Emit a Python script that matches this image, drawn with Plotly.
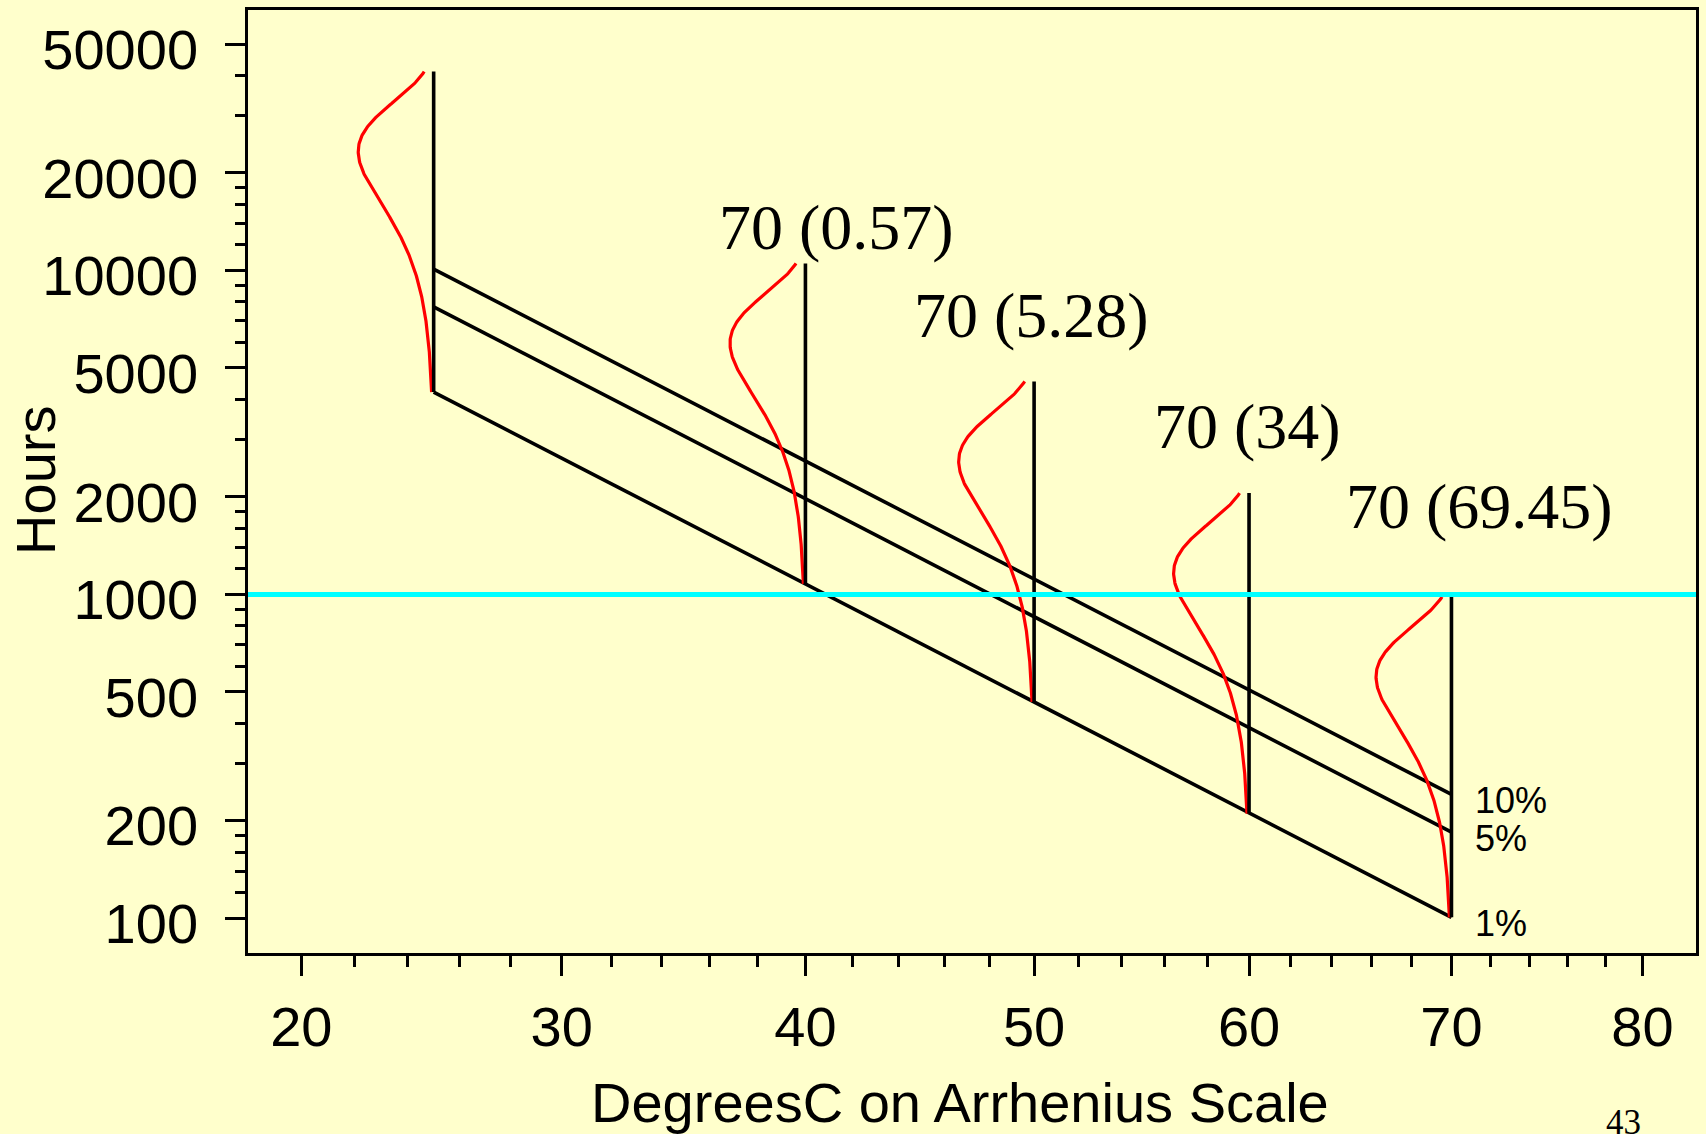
import numpy as np
import plotly.graph_objects as go

# ---- data -------------------------------------------------------------
temps_c = [25, 40, 50, 60, 70]                       # stress temperatures, deg C
char_life_hours = [23300, 5960, 2575, 1165, 557]     # Weibull characteristic life at each temperature
weibull_shape = 2.69                                 # common Weibull shape parameter
units_tested = 70
expected_failures = [0.57, 5.28, 34, 69.45]          # at 40, 50, 60, 70 deg C after 1000 h
test_hours = 1000
quantile_probs = [0.10, 0.05, 0.01]
quantile_labels = ["10%", "5%", "1%"]
density_band = [0.01, 0.99]                           # probability span of each density curve

x_tick_temps = [20, 30, 40, 50, 60, 70, 80]
x_minor_temps = [t for t in range(20, 81, 2) if t % 10]
y_major = [100, 200, 500, 1000, 2000, 5000, 10000, 20000, 50000]
y_minor = [120, 140, 160, 180, 300, 400, 600, 700, 800, 900,
           1200, 1400, 1600, 1800, 3000, 4000, 6000, 7000, 8000, 9000,
           12000, 14000, 16000, 18000, 30000, 40000]

BG = "#FFFFCC"
SANS = "Liberation Sans, Arial, sans-serif"
SERIF = "Liberation Serif, Times New Roman, serif"


def arr_x(t_c):
    """Arrhenius axis coordinate for a Celsius temperature."""
    return -1e4 / (np.asarray(t_c, dtype=float) + 273.15)


def weibull_q(eta, p):
    return eta * (-np.log(1.0 - np.asarray(p))) ** (1.0 / weibull_shape)


fig = go.Figure()

# 1000-hour test line
fig.add_shape(type="line", xref="paper", x0=0, x1=1, yref="y", y0=test_hours, y1=test_hours,
              line=dict(color="#00FFFF", width=5), layer="above")

# quantile lines between the lowest and highest temperature
for p in quantile_probs:
    ends = [temps_c[0], temps_c[-1]]
    lives = [weibull_q(char_life_hours[0], p), weibull_q(char_life_hours[-1], p)]
    fig.add_trace(go.Scatter(x=arr_x(ends), y=lives, mode="lines",
                             line=dict(color="black", width=3.6), hoverinfo="skip"))

# sideways density at each temperature
peak_width = 0.326   # in Arrhenius axis units
z_lo, z_hi = [np.log(-np.log(1 - p)) for p in density_band]
z = np.linspace(z_lo, z_hi, 300)
for t_c, eta in zip(temps_c, char_life_hours):
    hours = eta * np.exp(z / weibull_shape)
    rel = np.exp(1 + z - np.exp(z))
    x0 = float(arr_x(t_c))
    fig.add_trace(go.Scatter(x=x0 - peak_width * rel, y=hours, mode="lines",
                             line=dict(color="#FF0000", width=3.2), hoverinfo="skip"))
    fig.add_trace(go.Scatter(x=[x0, x0], y=weibull_q(eta, density_band), mode="lines",
                             line=dict(color="black", width=3.6), hoverinfo="skip"))

annotations = []
# expected failures out of the units tested
label_pos = [(41.34, 13590), (49.9, 7280), (59.94, 3297), (71.44, 1871)]
for (lx, ly), nf in zip(label_pos, expected_failures):
    annotations.append(dict(x=float(arr_x(lx)), y=np.log10(ly), xref="x", yref="y",
                            text=f"{units_tested} ({nf:g})", showarrow=False,
                            xanchor="center", yanchor="middle",
                            font=dict(family=SERIF, size=64, color="black")))

# quantile labels at the hot end
for p, lab in zip(quantile_probs, quantile_labels):
    annotations.append(dict(x=float(arr_x(temps_c[-1])), y=np.log10(weibull_q(char_life_hours[-1], p)),
                            xref="x", yref="y", text=lab, showarrow=False,
                            xanchor="left", yanchor="middle", xshift=22, yshift=-6,
                            font=dict(family=SANS, size=36, color="black")))

# axis titles and page number (placed in pixels, converted below)
annotations.append(dict(x=35, y=479, xref="paper", yref="paper", text="Hours", showarrow=False,
                        textangle=-90, xanchor="center", yanchor="middle",
                        font=dict(family=SANS, size=56, color="black")))
annotations.append(dict(x=961, y=1103, xref="paper", yref="paper", text="DegreesC on Arrhenius Scale",
                        showarrow=False, xanchor="center", yanchor="middle",
                        font=dict(family=SANS, size=56, color="black")))
annotations.append(dict(x=1626, y=1123, xref="paper", yref="paper", text="43",
                        showarrow=False, xanchor="center", yanchor="middle",
                        font=dict(family=SERIF, size=35, color="black")))

L, R, T, B = 248, 7, 7, 181
W, H = 1706, 1134
pw, ph = W - L - R, H - T - B
for a in annotations:
    if a["xref"] == "paper":
        a["x"] = (a["x"] - L) / pw
        a["y"] = (H - B - a["y"]) / ph

fig.update_layout(
    width=W, height=H,
    margin=dict(l=L, r=R, t=T, b=B),
    paper_bgcolor=BG, plot_bgcolor=BG,
    showlegend=False,
    annotations=annotations,
)

fig.update_xaxes(
    range=[-34.3425, -28.085],
    tickmode="array", tickvals=arr_x(x_tick_temps), ticktext=[str(t) for t in x_tick_temps],
    ticks="outside", ticklen=20, tickwidth=2.5, tickcolor="black",
    minor=dict(tickmode="array", tickvals=arr_x(x_minor_temps), ticks="outside",
               ticklen=11, tickwidth=2.5, tickcolor="black", showgrid=False),
    showline=True, linecolor="black", linewidth=2.5, mirror=True,
    showgrid=False, zeroline=False,
    tickfont=dict(family=SANS, size=56, color="black"), ticklabelstandoff=3,
)
fig.update_yaxes(
    type="log", range=[1.8932, 4.8040],
    tickmode="array", tickvals=y_major, ticktext=[str(v) for v in y_major],
    ticks="outside", ticklen=20, tickwidth=2.5, tickcolor="black",
    minor=dict(tickmode="array", tickvals=y_minor, ticks="outside",
               ticklen=10, tickwidth=2.5, tickcolor="black", showgrid=False),
    showline=True, linecolor="black", linewidth=2.5, mirror=True,
    showgrid=False, zeroline=False,
    tickfont=dict(family=SANS, size=56, color="black"), ticklabelstandoff=16,
    ticklabelshift=5,
)

fig.write_html("out.html")
